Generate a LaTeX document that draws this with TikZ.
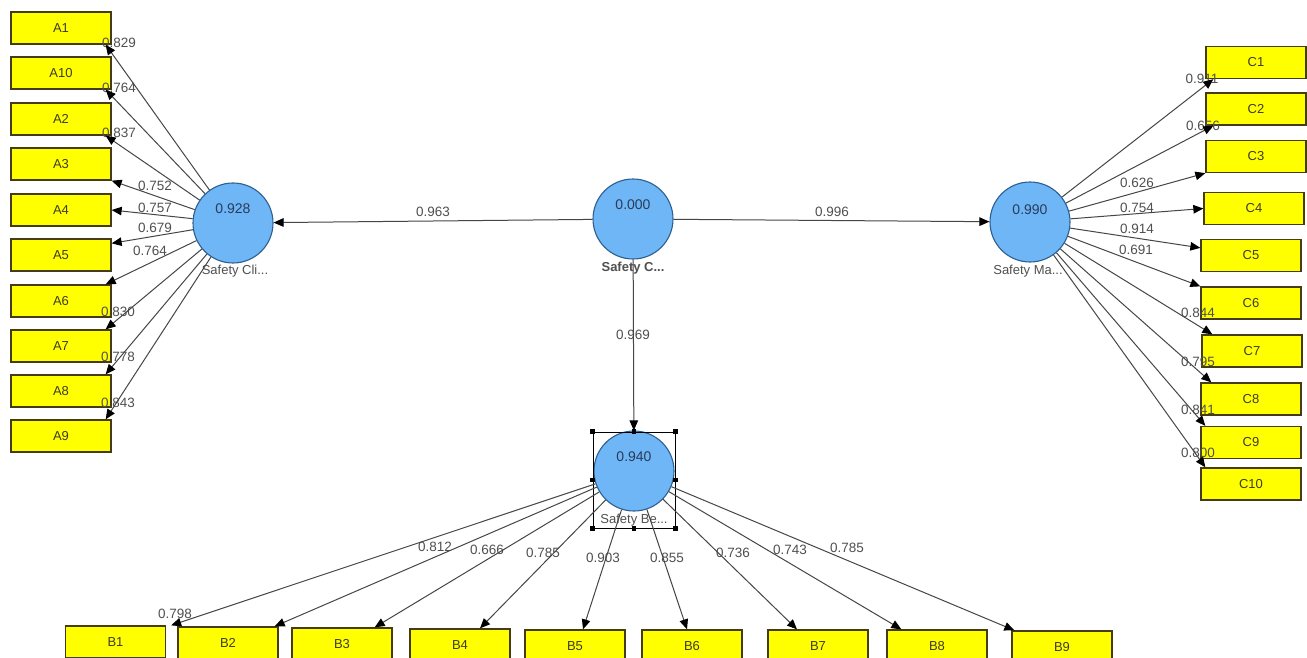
\documentclass[tikz,border=0pt]{standalone}
\usepackage{fontspec}
\setmainfont{Liberation Sans}
\usetikzlibrary{arrows.meta,calc}
\definecolor{boxyellow}{RGB}{255,255,0}
\definecolor{boxedge}{RGB}{70,60,20}
\definecolor{boxtext}{RGB}{60,60,40}
\definecolor{circfill}{RGB}{110,182,245}
\definecolor{circedge}{RGB}{45,95,145}
\definecolor{valtext}{RGB}{40,60,90}
\definecolor{labtext}{RGB}{80,80,80}
\definecolor{linecol}{RGB}{70,70,70}
\begin{document}
\begin{tikzpicture}[x=1pt,y=-1pt,
  ind/.style={draw=boxedge, fill=boxyellow, line width=1.3pt, minimum width=100pt, minimum height=32pt, inner sep=0pt, font=\fontsize{13}{15}\selectfont, text=boxtext},
  lv/.style={circle, draw=circedge, fill=circfill, line width=1.1pt, minimum size=80pt, inner sep=0pt},
  val/.style={font=\fontsize{14}{16}\selectfont, text=valtext, inner sep=0pt},
  lvname/.style={font=\fontsize{13}{15}\selectfont, text=labtext, inner sep=0pt},
  wt/.style={font=\fontsize{13.5}{15}\selectfont, text=labtext, inner sep=0pt},
  conn/.style={draw=linecol, line width=1pt, -{Triangle[length=10pt,width=8.5pt,color=black]}},
  handle/.style={fill=black, minimum size=4.5pt, inner sep=0pt},
]
\useasboundingbox (0,0) rectangle (1307,658);
\fill[white] (0,0) rectangle (1307,658);

% latent variables
\node[lv] (SC) at (633,219) {};
\node[lv] (CL) at (233,223) {};
\node[lv] (MA) at (1030,222) {};
\node[lv] (BE) at (634,471) {};
\node[val] (vSC) at (633,205) {0.000};
\node[val] (vCL) at (233,209) {0.928};
\node[val] (vMA) at (1030,210) {0.990};
\node[val] (vBE) at (634,457) {0.940};
\node[lvname, font=\fontsize{13}{15}\selectfont\bfseries] (nSC) at (633,268) {Safety C...};
\node[lvname] (nCL) at (235,271) {Safety Cli...};
\node[lvname] (nMA) at (1028,271) {Safety Ma...};
\node[lvname] (nBE) at (634,520) {Safety Be...};

% selection frame around Safety Be...
\node[draw=black, line width=0.8pt, minimum width=82pt, minimum height=96pt, inner sep=0pt] (sel) at (634,480) {};
\foreach \a in {north west,north,north east,west,east,south west,south,south east}
  \node[handle] at (sel.\a) {};

% A indicators
\node[ind] (A1) at (61,28) {A1};
\node[ind] (A10) at (61,73) {A10};
\node[ind] (A2) at (61,119) {A2};
\node[ind] (A3) at (61,164) {A3};
\node[ind] (A4) at (61,210) {A4};
\node[ind] (A5) at (61,255) {A5};
\node[ind] (A6) at (61,301) {A6};
\node[ind] (A7) at (61,346) {A7};
\node[ind] (A8) at (61,391) {A8};
\node[ind] (A9) at (61,436) {A9};

% C indicators
\node[ind] (C1) at (1256,62.5) {C1};
\node[ind] (C2) at (1256,109) {C2};
\node[ind] (C3) at (1256,156.5) {C3};
\node[ind] (C4) at (1254,208.5) {C4};
\node[ind] (C5) at (1251,255.5) {C5};
\node[ind] (C6) at (1251,303) {C6};
\node[ind] (C7) at (1252,351) {C7};
\node[ind] (C8) at (1251,399) {C8};
\node[ind] (C9) at (1251,442.5) {C9};
\node[ind] (C10) at (1251,484) {C10};

% B indicators
\node[ind] (B1) at (115.5,642) {B1};
\node[ind] (B2) at (228,643) {B2};
\node[ind] (B3) at (342,644) {B3};
\node[ind] (B4) at (460,645) {B4};
\node[ind] (B5) at (575,646) {B5};
\node[ind] (B6) at (692,646) {B6};
\node[ind] (B7) at (818,646) {B7};
\node[ind] (B8) at (937,646) {B8};
\node[ind] (B9) at (1062,647) {B9};

% weight labels (drawn before connectors)
\node[wt] (w963) at (433,212) {0.963};
\node[wt] (w996) at (832,212) {0.996};
\node[wt] (w969) at (633,335) {0.969};

\node[wt] (wA1) at (119,43) {0.829};
\node[wt] (wA10) at (119,88) {0.764};
\node[wt] (wA2) at (119,133) {0.837};
\node[wt] (wA3) at (155,186) {0.752};
\node[wt] (wA4) at (155,208) {0.757};
\node[wt] (wA5) at (155,228) {0.679};
\node[wt] (wA6) at (150,251) {0.764};
\node[wt] (wA7) at (118,312) {0.830};
\node[wt] (wA8) at (118,357) {0.778};
\node[wt] (wA9) at (118,403) {0.843};

\node[wt] (wC1) at (1202,79) {0.911};
\node[wt] (wC2) at (1203,126) {0.656};
\node[wt] (wC3) at (1137,183) {0.626};
\node[wt] (wC4) at (1137,208) {0.754};
\node[wt] (wC5) at (1137,229) {0.914};
\node[wt] (wC6) at (1136,250) {0.691};
\node[wt] (wC7) at (1198,313) {0.844};
\node[wt] (wC8) at (1198,362) {0.795};
\node[wt] (wC9) at (1198,410) {0.841};
\node[wt] (wC10) at (1198,453) {0.800};

\node[wt] (wB1) at (175,614) {0.798};
\node[wt] (wB2) at (435,547) {0.812};
\node[wt] (wB3) at (487,550) {0.666};
\node[wt] (wB4) at (543,553) {0.785};
\node[wt] (wB5) at (603,558) {0.903};
\node[wt] (wB6) at (667,558) {0.855};
\node[wt] (wB7) at (733,553) {0.736};
\node[wt] (wB8) at (790,550) {0.743};
\node[wt] (wB9) at (847,548) {0.785};

% structural paths
\draw[conn] (SC) -- (CL);
\draw[conn] (SC) -- (MA);
\draw[conn] (SC) -- (BE);

% outer loadings Safety Cli...
\draw[conn] (CL) -- ($(A1.south east)+(-6,0)$);
\draw[conn] (CL) -- ($(A10.south east)+(-6,0)$);
\draw[conn] (CL) -- ($(A2.south east)+(-6,0)$);
\draw[conn] (CL) -- (A3.south east);
\draw[conn] (CL) -- (A4.east);
\draw[conn] (CL) -- ($(A5.north east)+(0,5)$);
\draw[conn] (CL) -- ($(A6.north east)+(-6,0)$);
\draw[conn] (CL) -- ($(A7.north east)+(-6,0)$);
\draw[conn] (CL) -- ($(A8.north east)+(-6,0)$);
\draw[conn] (CL) -- ($(A9.north east)+(-6,0)$);

% outer loadings Safety Ma...
\draw[conn] (MA) -- ($(C1.south west)+(8,0)$);
\draw[conn] (MA) -- ($(C2.south west)+(8,0)$);
\draw[conn] (MA) -- (C3.south west);
\draw[conn] (MA) -- (C4.west);
\draw[conn] (MA) -- ($(C5.north west)+(0,9)$);
\draw[conn] (MA) -- (C6.north west);
\draw[conn] (MA) -- ($(C7.north west)+(11,0)$);
\draw[conn] (MA) -- ($(C8.north west)+(11,0)$);
\draw[conn] (MA) -- ($(C9.north west)+(5,0)$);
\draw[conn] (MA) -- ($(C10.north west)+(5,0)$);

% outer loadings Safety Be...
\draw[conn] (BE) -- ($(B1.north east)+(5,0)$);
\draw[conn] (BE) -- ($(B2.north east)+(-4,0)$);
\draw[conn] (BE) -- ($(B3.north east)+(-18,0)$);
\draw[conn] (BE) -- ($(B4.north)+(20,0)$);
\draw[conn] (BE) -- ($(B5.north)+(8,0)$);
\draw[conn] (BE) -- ($(B6.north)+(-5,0)$);
\draw[conn] (BE) -- ($(B7.north)+(-21,0)$);
\draw[conn] (BE) -- ($(B8.north west)+(15,0)$);
\draw[conn] (BE) -- ($(B9.north west)+(3,0)$);
\end{tikzpicture}
\end{document}
